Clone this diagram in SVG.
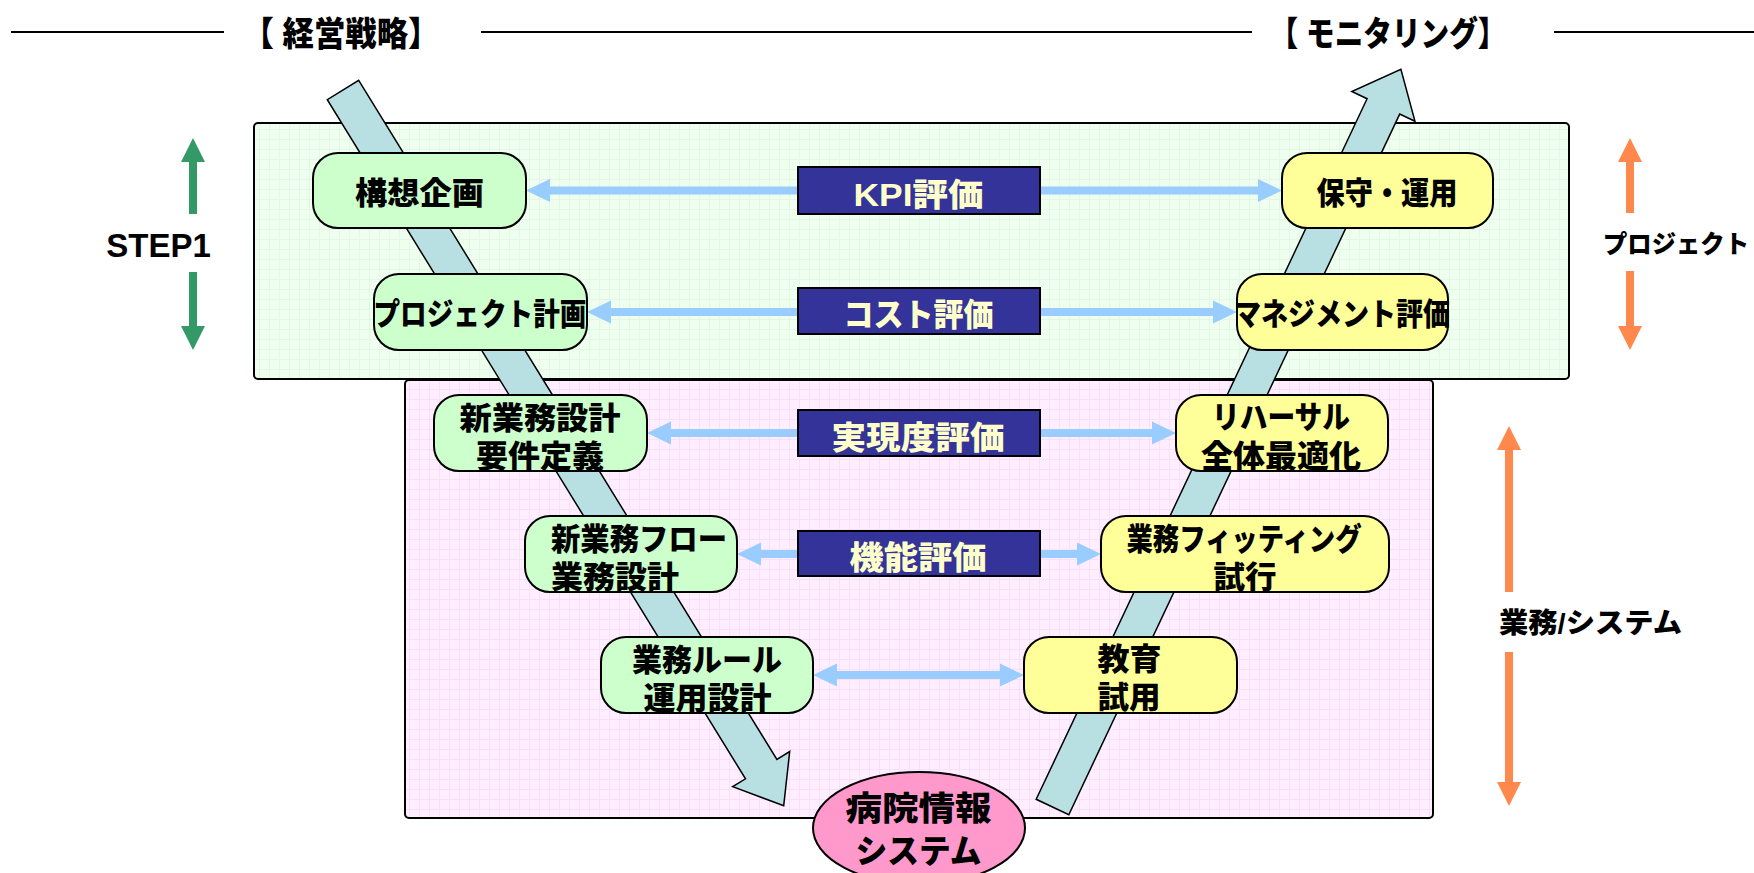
<svg xmlns="http://www.w3.org/2000/svg" width="1754" height="873" viewBox="0 0 1754 873">
<style>
  text { font-family: 'Liberation Sans', 'Noto Sans CJK JP', sans-serif; font-weight: 900; }
  .t { font-size: 31px; fill: #000; text-anchor: middle; }
  .lbl { font-size: 32px; fill: #FFFFCC; text-anchor: middle; }
  .side { font-size: 28px; fill: #000; }
  .title { font-size: 34px; fill: #000; text-anchor: middle; }
  .nodeG { fill: #CCFFCC; stroke: #000; stroke-width: 2; }
  .nodeY { fill: #FFFF99; stroke: #000; stroke-width: 2; }
  .lblbox { fill: #333399; stroke: #000; stroke-width: 2; }
  .conn2 { stroke: #99CCFF; stroke-width: 8; fill: none; marker-start: url(#ah); marker-end: url(#ah); }
  .vArrow { fill: #B8DFE2; stroke: #000; stroke-width: 1.5; stroke-linejoin: miter; }
  .rule { stroke: #000; stroke-width: 2; }
</style>
<defs>
  <pattern id="gridG" width="10" height="10" patternUnits="userSpaceOnUse">
    <rect width="10" height="10" fill="#EFFFEF"/>
    <path d="M9.5 0V10M0 9.5H10" stroke="#E4F7E4" stroke-width="1"/>
  </pattern>
  <pattern id="gridP" width="10" height="10" patternUnits="userSpaceOnUse">
    <rect width="10" height="10" fill="#FFEEFF"/>
    <path d="M9.5 0V10M0 9.5H10" stroke="#F9E0F9" stroke-width="1"/>
  </pattern>
  <marker id="ah" markerUnits="userSpaceOnUse" markerWidth="24" markerHeight="24" viewBox="0 0 24 24" refX="0" refY="12" orient="auto-start-reverse">
    <path d="M0 0.5 L24 12 L0 23.5 Z" fill="#99CCFF"/>
  </marker>
  <marker id="gh" markerUnits="userSpaceOnUse" markerWidth="24" markerHeight="24" viewBox="0 0 24 24" refX="0" refY="12" orient="auto">
    <path d="M0 0 L24 12 L0 24 Z" fill="#339966"/>
  </marker>
  <marker id="oh" markerUnits="userSpaceOnUse" markerWidth="24" markerHeight="24" viewBox="0 0 24 24" refX="0" refY="12" orient="auto">
    <path d="M0 0 L24 12 L0 24 Z" fill="#FF884D"/>
  </marker>
</defs>

<rect width="1754" height="873" fill="#FFFFFF"/>

<!-- header rules and titles -->
<g id="header">
  <line class="rule" x1="11" y1="32" x2="224" y2="32"/>
  <line class="rule" x1="481" y1="32" x2="1252" y2="32"/>
  <line class="rule" x1="1554" y1="32" x2="1754" y2="32"/>
  <text class="title" x="341" y="46" textLength="197" lengthAdjust="spacingAndGlyphs">【 経営戦略】</text>
  <text class="title" x="1388" y="46" textLength="237" lengthAdjust="spacingAndGlyphs">【 モニタリング】</text>
</g>

<!-- panels -->
<g id="panel-business">
  <rect x="405" y="380" width="1028" height="438" rx="4" fill="url(#gridP)" stroke="#000" stroke-width="2"/>
</g>
<g id="panel-project">
  <rect x="254" y="123" width="1315" height="256" rx="4" fill="url(#gridG)" stroke="#000" stroke-width="2"/>
</g>

<!-- big V arrows -->
<g id="v-arrows">
  <polygon class="vArrow" points="358.7,80.3 776.9,759.4 789.7,751.5 783.7,805.7 732.7,786.7 745.5,778.8 327.3,99.7"/>
  <polygon class="vArrow" points="1036.2,799.3 1367.1,98.7 1351.8,91.5 1400.9,69.3 1415,121.3 1399.7,114.1 1068.8,814.7"/>
</g>

<!-- connectors -->
<g id="connectors">
  <line class="conn2" x1="550" y1="190.5" x2="1258" y2="190.5"/>
  <line class="conn2" x1="611" y1="312" x2="1213" y2="312"/>
  <line class="conn2" x1="671" y1="433" x2="1152" y2="433"/>
  <line class="conn2" x1="761" y1="554" x2="1077" y2="554"/>
  <line class="conn2" x1="837" y1="675" x2="1000" y2="675"/>
</g>

<!-- connector labels -->
<g id="label-kpi">
  <rect class="lblbox" x="798" y="167" width="242" height="47"/>
  <text class="lbl" x="918.5" y="206" textLength="130" lengthAdjust="spacingAndGlyphs">KPI評価</text>
</g>
<g id="label-cost">
  <rect class="lblbox" x="798" y="288" width="242" height="46"/>
  <text class="lbl" x="918.5" y="326" textLength="150" lengthAdjust="spacingAndGlyphs">コスト評価</text>
</g>
<g id="label-jitsugen">
  <rect class="lblbox" x="798" y="410" width="242" height="46"/>
  <text class="lbl" x="918" y="449" textLength="173" lengthAdjust="spacingAndGlyphs">実現度評価</text>
</g>
<g id="label-kino">
  <rect class="lblbox" x="798" y="531" width="242" height="45"/>
  <text class="lbl" x="918" y="569" textLength="137" lengthAdjust="spacingAndGlyphs">機能評価</text>
</g>

<!-- left (green) nodes -->
<g id="node-koso">
  <rect class="nodeG" x="313" y="153" width="213" height="75" rx="25"/>
  <text class="t" x="419.5" y="204" textLength="129" lengthAdjust="spacingAndGlyphs">構想企画</text>
</g>
<g id="node-project-plan">
  <rect class="nodeG" x="374" y="274" width="213" height="76" rx="25"/>
  <text class="t" x="480" y="325" textLength="213" lengthAdjust="spacingAndGlyphs">プロジェクト計画</text>
</g>
<g id="node-shingyomu">
  <rect class="nodeG" x="434" y="395" width="213" height="76" rx="25"/>
  <text class="t" x="540" y="429" textLength="161" lengthAdjust="spacingAndGlyphs">新業務設計</text>
  <text class="t" x="540" y="467" textLength="128" lengthAdjust="spacingAndGlyphs">要件定義</text>
</g>
<g id="node-flow">
  <rect class="nodeG" x="525" y="516" width="212" height="76" rx="25"/>
  <text class="t" x="551" y="550" style="text-anchor:start" textLength="176" lengthAdjust="spacingAndGlyphs">新業務フロー</text>
  <text class="t" x="551" y="588" style="text-anchor:start" textLength="128" lengthAdjust="spacingAndGlyphs">業務設計</text>
</g>
<g id="node-rule">
  <rect class="nodeG" x="601" y="637" width="212" height="76" rx="25"/>
  <text class="t" x="707" y="671" textLength="150" lengthAdjust="spacingAndGlyphs">業務ルール</text>
  <text class="t" x="707.5" y="709" textLength="128" lengthAdjust="spacingAndGlyphs">運用設計</text>
</g>

<!-- right (yellow) nodes -->
<g id="node-hoshu">
  <rect class="nodeY" x="1282" y="153" width="211" height="75" rx="25"/>
  <text class="t" x="1387" y="204" textLength="141" lengthAdjust="spacingAndGlyphs">保守・運用</text>
</g>
<g id="node-management">
  <rect class="nodeY" x="1237" y="274" width="211" height="76" rx="25"/>
  <text class="t" x="1342" y="325" textLength="216" lengthAdjust="spacingAndGlyphs">マネジメント評価</text>
</g>
<g id="node-rehearsal">
  <rect class="nodeY" x="1176" y="395" width="212" height="76" rx="25"/>
  <text class="t" x="1281" y="428" textLength="138" lengthAdjust="spacingAndGlyphs">リハーサル</text>
  <text class="t" x="1281" y="467" textLength="160" lengthAdjust="spacingAndGlyphs">全体最適化</text>
</g>
<g id="node-fitting">
  <rect class="nodeY" x="1101" y="516" width="288" height="76" rx="25"/>
  <text class="t" x="1244" y="550" textLength="235" lengthAdjust="spacingAndGlyphs">業務フィッティング</text>
  <text class="t" x="1245" y="588" textLength="63" lengthAdjust="spacingAndGlyphs">試行</text>
</g>
<g id="node-kyoiku">
  <rect class="nodeY" x="1024" y="637" width="213" height="76" rx="25"/>
  <text class="t" x="1129.5" y="670" textLength="64" lengthAdjust="spacingAndGlyphs">教育</text>
  <text class="t" x="1129" y="708" textLength="63" lengthAdjust="spacingAndGlyphs">試用</text>
</g>

<!-- system ellipse -->
<g id="node-system">
  <ellipse cx="919" cy="828" rx="106" ry="56" fill="#FF99CC" stroke="#000" stroke-width="2"/>
  <text class="t" x="918.5" y="820" style="font-size:33px" textLength="146" lengthAdjust="spacingAndGlyphs">病院情報</text>
  <text class="t" x="918.5" y="863" style="font-size:33px" textLength="126" lengthAdjust="spacingAndGlyphs">システム</text>
</g>

<!-- side indicators -->
<g id="step1">
  <line x1="193" y1="214" x2="193" y2="162" stroke="#339966" stroke-width="8" marker-end="url(#gh)"/>
  <line x1="193" y1="272" x2="193" y2="326" stroke="#339966" stroke-width="8" marker-end="url(#gh)"/>
  <text x="158.5" y="257" style="font-family:'Liberation Sans', sans-serif; font-weight:bold; font-size:33px; text-anchor:middle">STEP1</text>
</g>
<g id="side-project">
  <line x1="1630" y1="213" x2="1630" y2="162" stroke="#FF884D" stroke-width="8" marker-end="url(#oh)"/>
  <line x1="1630" y1="271" x2="1630" y2="326" stroke="#FF884D" stroke-width="8" marker-end="url(#oh)"/>
  <text class="side" x="1603" y="253" style="font-size:25px" textLength="146" lengthAdjust="spacingAndGlyphs">プロジェクト</text>
</g>
<g id="side-business">
  <line x1="1509" y1="592" x2="1509" y2="450" stroke="#FF884D" stroke-width="8" marker-end="url(#oh)"/>
  <line x1="1509" y1="652" x2="1509" y2="782" stroke="#FF884D" stroke-width="8" marker-end="url(#oh)"/>
  <text class="side" x="1499" y="633" textLength="183" lengthAdjust="spacingAndGlyphs">業務/システム</text>
</g>
</svg>
